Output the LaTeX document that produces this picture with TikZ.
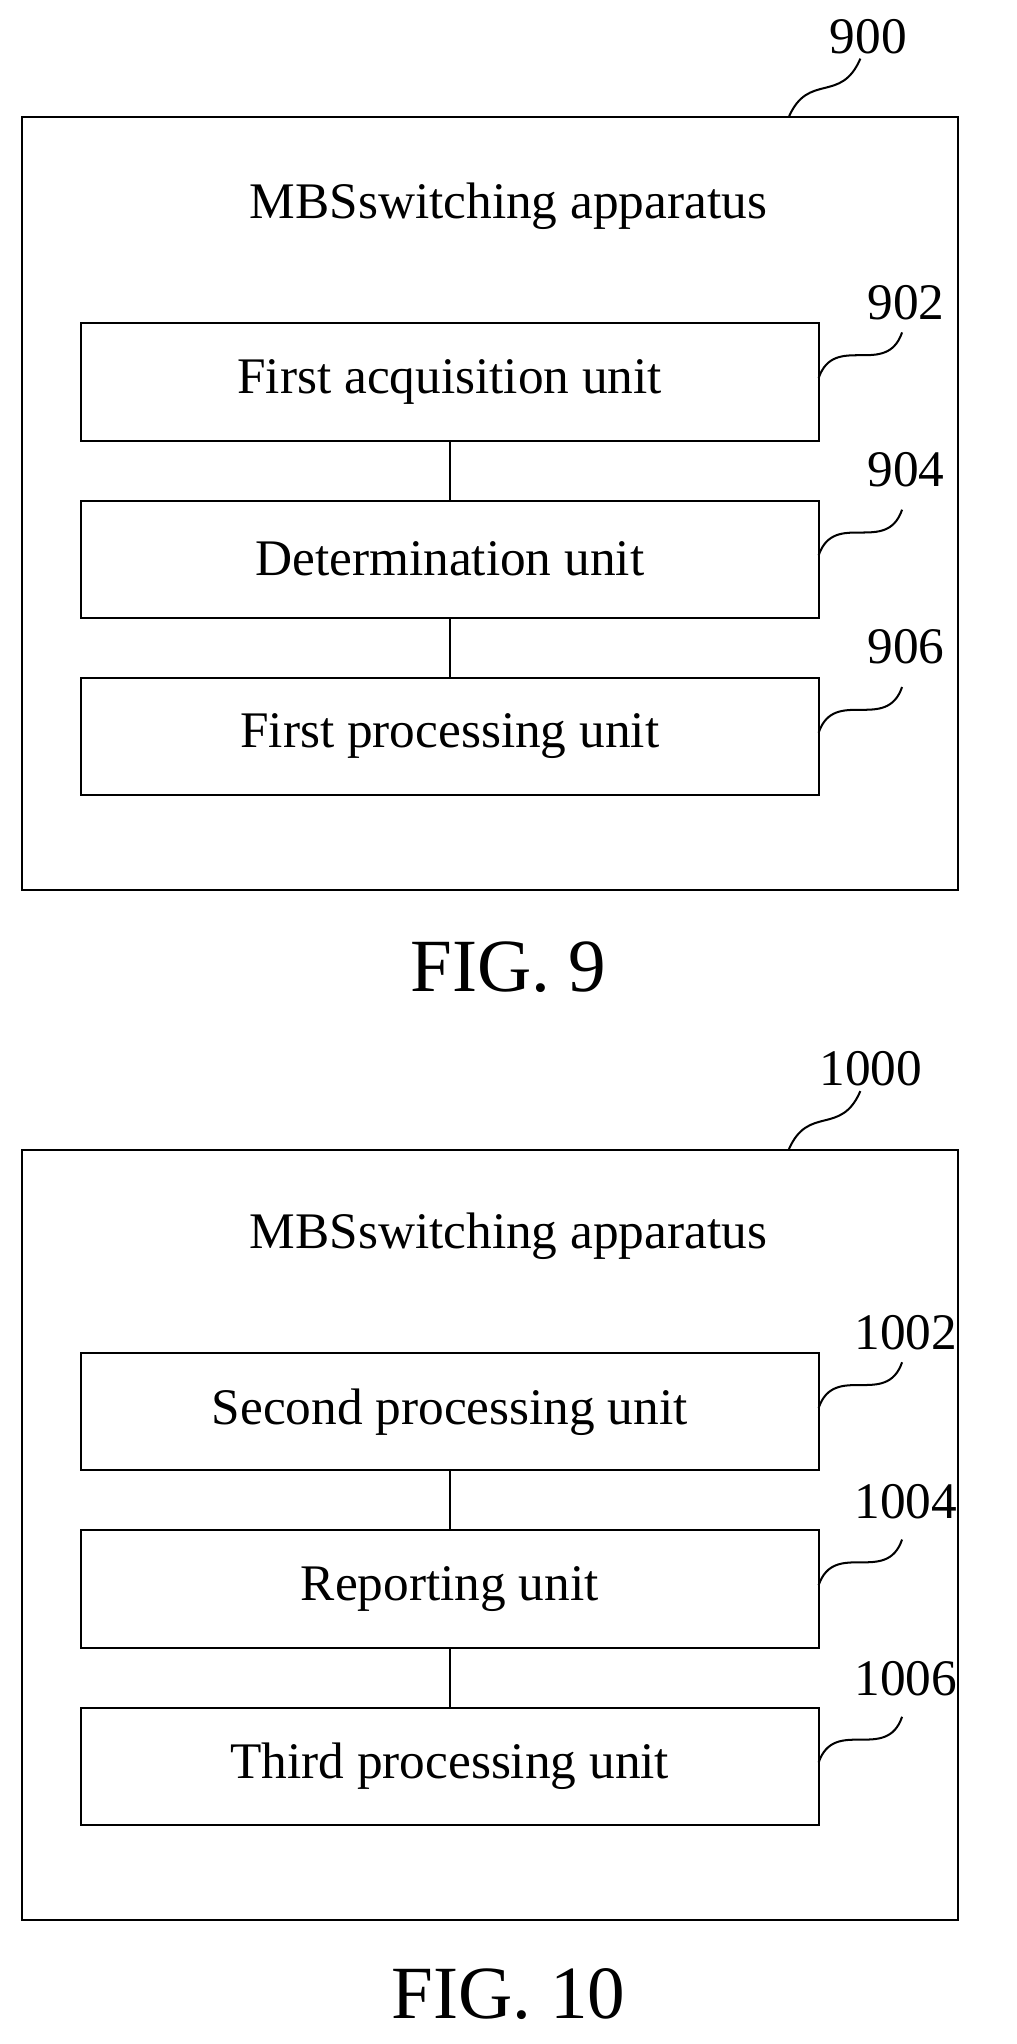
\documentclass[tikz,border=0pt]{standalone}
\usepackage{fontspec}
\setmainfont{Liberation Serif}
\begin{document}
\begin{tikzpicture}[x=0.05cm, y=-0.05cm, line width=2.2pt,
  unit/.style={draw, minimum width=28.3cm, minimum height=4.5cm, font=\fontsize{56}{66}\selectfont},
  txt/.style={font=\fontsize{56}{66}\selectfont},
  fig/.style={font=\fontsize{82}{96}\selectfont}]
\useasboundingbox (0,0) rectangle (780,1568);

% FIG. 9
\node[draw, minimum width=35.9cm, minimum height=29.65cm] (A) at (376,386.5) {};
\node[txt] (T) at (390,158) {MBSswitching apparatus};
\node[unit] (B) at (345,293) {First acquisition unit};
\node[unit] (C) at (345,429) {Determination unit};
\node[unit] (D) at (345,565) {First processing unit};
\draw (B) -- (C);
\draw (C) -- (D);
\node[txt] (LA) at (666,28) {900};
\node[txt] (LB) at (695,232) {902};
\node[txt] (LC) at (695,360) {904};
\node[txt] (LD) at (695,496) {906};
\draw (605,90) .. controls (620,55) and (645,80) .. (660,45);
\draw (628,290) .. controls (640,255) and (680,290) .. (692,255);
\draw (628,426) .. controls (640,391) and (680,426) .. (692,391);
\draw (628,562) .. controls (640,527) and (680,562) .. (692,527);
\node[fig] (F9) at (390,742) {FIG. 9};

% FIG. 10
\node[draw, minimum width=35.9cm, minimum height=29.55cm] (E) at (376,1177.5) {};
\node[txt] (U) at (390,948) {MBSswitching apparatus};
\node[unit] (G) at (345,1083) {Second processing unit};
\node[unit] (H) at (345,1219) {Reporting unit};
\node[unit] (K) at (345,1355) {Third processing unit};
\draw (G) -- (H);
\draw (H) -- (K);
\node[txt] (LE) at (668,820) {1000};
\node[txt] (LG) at (695,1022) {1002};
\node[txt] (LH) at (695,1152) {1004};
\node[txt] (LK) at (695,1288) {1006};
\draw (605,882) .. controls (620,847) and (645,872) .. (660,837);
\draw (628,1080) .. controls (640,1045) and (680,1080) .. (692,1045);
\draw (628,1216) .. controls (640,1181) and (680,1216) .. (692,1181);
\draw (628,1352) .. controls (640,1317) and (680,1352) .. (692,1317);
\node[fig] (F10) at (390,1530) {FIG. 10};
\end{tikzpicture}
\end{document}
